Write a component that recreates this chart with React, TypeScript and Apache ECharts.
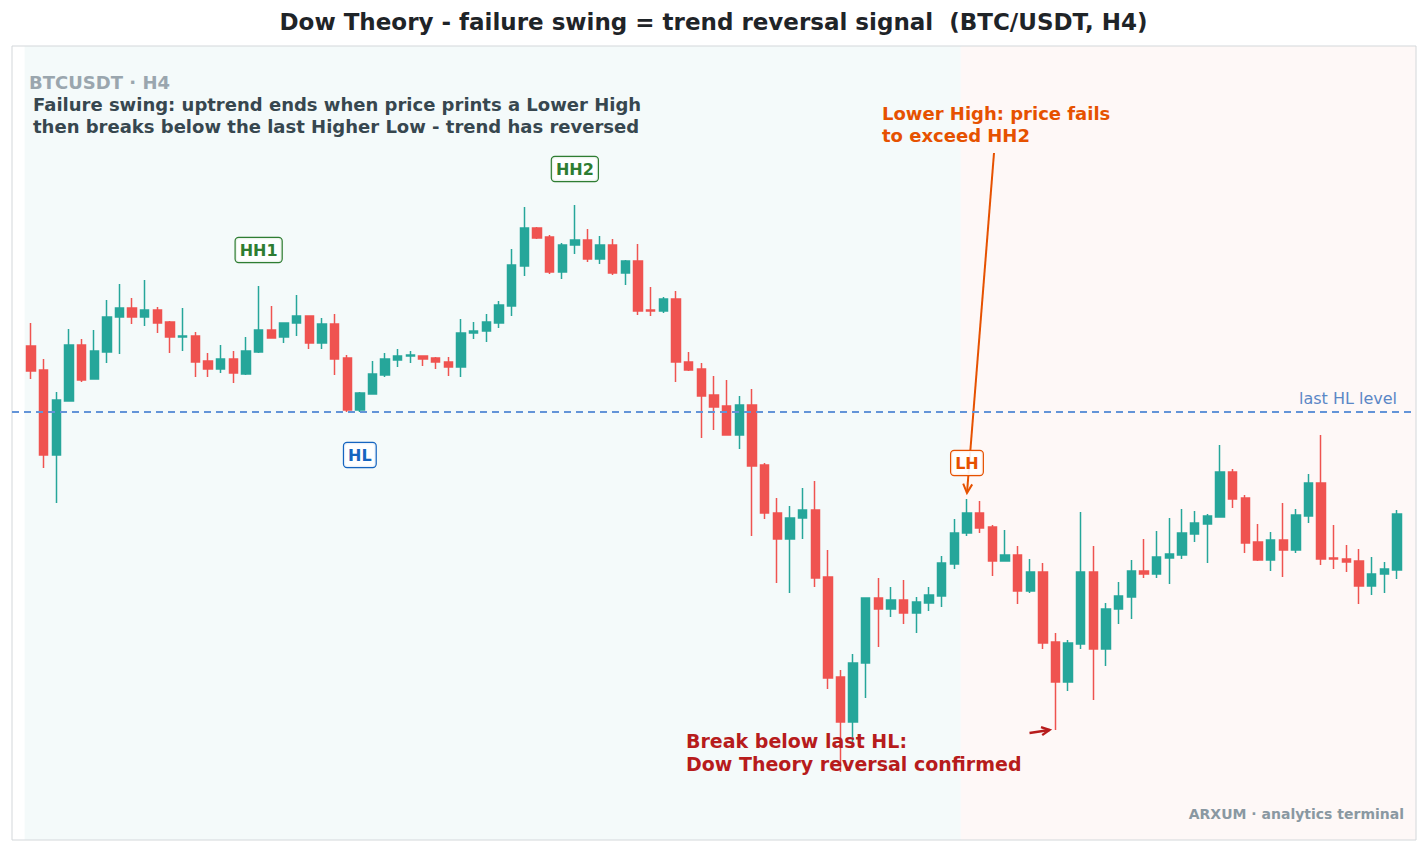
import React, { useEffect, useRef } from 'react';
import * as echarts from 'echarts';

// H4 candles (no axis shown, so the price scale is estimated)
const opens = [
  66540, 66300, 65450, 65990, 66550, 66210, 66480, 66830, 66920, 66830,
  66900, 66780, 66630, 66640, 66390, 66310, 66410, 66260, 66480, 66700,
  66630, 66770, 66840, 66570, 66760, 66420, 65900, 66060, 66250, 66400,
  66440, 66440, 66420, 66380, 66330, 66670, 66690, 66770, 66940, 67340,
  67720, 67630, 67280, 67550, 67600, 67410, 67550, 67270, 67390, 66900,
  66890, 67010, 66380, 66310, 66050, 65940, 65650, 65950, 65350, 64870,
  64610, 64820, 64900, 64230, 63230, 62780, 63370, 64020, 63910, 64000,
  63870, 63970, 64040, 64360, 64670, 64870, 64730, 64390, 64450, 64090,
  64280, 63580, 63180, 63560, 64280, 63510, 63910, 64030, 64290, 64260,
  64420, 64450, 64660, 64760, 64830, 65280, 65020, 64580, 64400, 64600,
  64500, 64840, 65170, 64420, 64410, 64390, 64140, 64260, 64300,
];
const closes = [
  66290, 65450, 66000, 66550, 66200, 66490, 66830, 66920, 66830, 66900,
  66770, 66630, 66640, 66380, 66310, 66410, 66270, 66490, 66700, 66620,
  66770, 66840, 66570, 66760, 66410, 65900, 66070, 66260, 66410, 66440,
  66450, 66410, 66380, 66330, 66670, 66690, 66780, 66950, 67350, 67720,
  67620, 67280, 67550, 67600, 67410, 67550, 67270, 67390, 66890, 66890,
  67010, 66380, 66300, 66040, 65930, 65650, 65950, 65340, 64870, 64610,
  64820, 64900, 64220, 63220, 62780, 63370, 64020, 63910, 64000, 63870,
  63980, 64050, 64370, 64670, 64870, 64720, 64390, 64450, 64090, 64280,
  63570, 63180, 63570, 64280, 63510, 63910, 64040, 64290, 64260, 64430,
  64460, 64670, 64770, 64840, 65280, 65010, 64570, 64400, 64600, 64500,
  64850, 65170, 64410, 64410, 64380, 64140, 64260, 64310, 64860,
];
const lows = [
  66210, 65320, 64970, 65990, 66180, 66210, 66370, 66460, 66760, 66740,
  66670, 66470, 66490, 66230, 66230, 66270, 66170, 66250, 66470, 66620,
  66570, 66640, 66510, 66510, 66250, 65880, 65880, 66060, 66230, 66330,
  66370, 66340, 66310, 66240, 66230, 66610, 66580, 66720, 66840, 67240,
  67610, 67260, 67210, 67460, 67380, 67360, 67250, 67150, 66850, 66840,
  66870, 66180, 66290, 65620, 65700, 65650, 65510, 64640, 64810, 64170,
  64070, 64610, 64130, 63110, 62280, 62520, 63020, 63530, 63830, 63760,
  63670, 63890, 63930, 64310, 64640, 64670, 64240, 64390, 63960, 64070,
  63510, 62700, 63090, 63510, 63000, 63340, 63760, 63810, 64220, 64220,
  64160, 64410, 64580, 64370, 64830, 64920, 64470, 64390, 64290, 64230,
  64470, 64770, 64350, 64310, 64280, 63960, 64050, 64070, 64210,
];
const highs = [
  66770, 66410, 66080, 66710, 66610, 66700, 67000, 67160, 67020, 67200,
  66930, 66790, 66920, 66680, 66470, 66550, 66490, 66630, 67140, 66940,
  66770, 67050, 66840, 66820, 66860, 66450, 66080, 66390, 66470, 66510,
  66490, 66440, 66430, 66430, 66810, 66780, 66860, 66990, 67510, 67930,
  67730, 67650, 67570, 67950, 67710, 67640, 67610, 67400, 67560, 67130,
  67030, 67090, 66480, 66370, 66240, 66200, 66040, 66110, 65370, 65020,
  64940, 65120, 65190, 64500, 63300, 63460, 64020, 64220, 64130, 64200,
  64030, 64130, 64440, 64810, 65010, 64990, 64750, 64700, 64540, 64410,
  64370, 63670, 63600, 64880, 64540, 63970, 64180, 64400, 64610, 64690,
  64820, 64910, 64890, 64860, 65550, 65310, 65050, 64760, 64680, 64970,
  64910, 65260, 65650, 64750, 64550, 64510, 64430, 64380, 64900,
];

const HL_LEVEL = 65880;
const Y_MIN = 61600;
const Y_MAX = 69540;
const PAD = 1; // one empty slot on the left, one on the right

// swing points (indices into the candle arrays)
const HH1_INDEX = 18;
const HH2_INDEX = 43;
const HL_INDEX = 26;
const LH_INDEX = 74;
const BREAK_INDEX = 81;

const FONT = 'DejaVu Sans';
const GREEN = '#26a69a';
const RED = '#ef5350';

const tag = (name: string, index: number, price: number, color: string) => ({
  name,
  coord: [index + PAD, price],
  symbol: 'rect',
  symbolSize: 1,
  itemStyle: { color: 'rgba(0,0,0,0)' },
  label: {
    show: true,
    position: 'inside',
    formatter: name,
    color,
    fontFamily: FONT,
    fontWeight: 'bold',
    fontSize: 16,
    lineHeight: 17,
    backgroundColor: 'rgba(255,255,255,0.9)',
    borderColor: color,
    borderWidth: 1.2,
    borderRadius: 3,
    padding: [4, 4, 3, 4],
  },
});

const arrowHead = (tip: number[], tail: number[], len: number, half: number) => {
  const dx = tip[0] - tail[0];
  const dy = tip[1] - tail[1];
  const d = Math.hypot(dx, dy);
  const ux = dx / d;
  const uy = dy / d;
  return [
    [tip[0] - ux * len - uy * half, tip[1] - uy * len + ux * half],
    [tip[0], tip[1]],
    [tip[0] - ux * len + uy * half, tip[1] - uy * len - ux * half],
  ];
};

const App: React.FC = () => {
  const chartRef = useRef<HTMLDivElement>(null);

  useEffect(() => {
    if (!chartRef.current) return;
    const chart = echarts.init(chartRef.current, undefined, { renderer: 'svg' });

    const slots = opens.length + PAD * 2;
    const categories = Array.from({ length: slots }, (_, i) => String(i));
    const empty = ['-', '-', '-', '-'];
    const candles = opens.map((o, i) => [o, closes[i], lows[i], highs[i]]);
    const data = [empty, ...candles, empty];

    chart.setOption({
      animation: false,
      backgroundColor: '#ffffff',
      title: {
        text: 'Dow Theory - failure swing = trend reversal signal  (BTC/USDT, H4)',
        left: 'center',
        top: 5,
        textStyle: { fontFamily: FONT, fontSize: 23, fontWeight: 'bold', color: '#1f2428' },
      },
      grid: {
        left: 12,
        right: 11,
        top: 46,
        bottom: 12,
        show: true,
        borderColor: '#d3d7da',
        borderWidth: 1,
        backgroundColor: 'transparent',
      },
      xAxis: { type: 'category', data: categories, boundaryGap: true, show: false },
      yAxis: { type: 'value', min: Y_MIN, max: Y_MAX, show: false },
      series: [
        {
          type: 'candlestick',
          data,
          barWidth: '70%',
          itemStyle: {
            color: GREEN,
            color0: RED,
            borderColor: GREEN,
            borderColor0: RED,
            borderWidth: 1.5,
          },
          markLine: {
            silent: true,
            symbol: ['none', 'none'],
            label: { show: false },
            lineStyle: { color: '#6394d8', width: 1.8, type: [7, 5] },
            data: [{ yAxis: HL_LEVEL }],
          },
          markPoint: {
            silent: true,
            data: [
              tag('HH1', HH1_INDEX, highs[HH1_INDEX] + 360, '#2e7d32'),
              tag('HH2', HH2_INDEX, highs[HH2_INDEX] + 360, '#2e7d32'),
              tag('HL', HL_INDEX, lows[HL_INDEX] - 430, '#1565c0'),
              tag('LH', LH_INDEX, highs[LH_INDEX] + 360, '#e65100'),
            ],
          },
        },
      ],
    });

    const px = (slot: number, price: number) =>
      chart.convertToPixel({ gridIndex: 0 }, [slot, price]) as number[];

    const first = px(PAD, Y_MAX);
    const second = px(PAD + 1, Y_MIN);
    const band = second[0] - first[0];
    const top = first[1];
    const bottom = second[1];
    const tealLeft = first[0] - band / 2;
    const split = px(PAD + LH_INDEX - 1, Y_MIN)[0] + band / 2;
    const pinkRight = px(slots - 1, Y_MIN)[0] + band / 2;

    const lhTip = px(PAD + LH_INDEX, highs[LH_INDEX]);
    lhTip[1] -= 6;
    const lhTail = [994, 153];
    const brTip = px(PAD + BREAK_INDEX, lows[BREAK_INDEX]);
    brTip[0] -= 6;
    const brTail = [brTip[0] - 20, brTip[1] + 3];
    const hlY = px(PAD, HL_LEVEL)[1];

    const txt = (x: number, y: number, text: string, size: number, fill: string, extra: any = {}) => ({
      type: 'text',
      x,
      y,
      z: 10,
      style: {
        text,
        fill,
        fontFamily: FONT,
        fontSize: size,
        fontWeight: 'bold',
        align: 'left',
        verticalAlign: 'top',
        ...extra,
      },
    });

    chart.setOption({
      graphic: [
        {
          type: 'rect',
          z: 0,
          silent: true,
          shape: { x: tealLeft, y: top + 0.5, width: split - tealLeft, height: bottom - top - 1 },
          style: { fill: 'rgba(38,166,154,0.05)' },
        },
        {
          type: 'rect',
          z: 0,
          silent: true,
          shape: { x: split, y: top + 0.5, width: pinkRight - split - 0.5, height: bottom - top - 1 },
          style: { fill: 'rgba(239,83,80,0.045)' },
        },
        {
          type: 'line',
          z: 1,
          silent: true,
          shape: { x1: lhTail[0], y1: lhTail[1], x2: lhTip[0], y2: lhTip[1] },
          style: { stroke: '#e65100', lineWidth: 2 },
        },
        {
          type: 'polyline',
          z: 1,
          silent: true,
          shape: { points: arrowHead(lhTip, lhTail, 9, 4.5) },
          style: { stroke: '#e65100', lineWidth: 2, fill: 'none' },
        },
        {
          type: 'line',
          z: 1,
          silent: true,
          shape: { x1: brTail[0], y1: brTail[1], x2: brTip[0], y2: brTip[1] },
          style: { stroke: '#b71c1c', lineWidth: 2.4 },
        },
        {
          type: 'polyline',
          z: 1,
          silent: true,
          shape: { points: arrowHead(brTip, brTail, 8, 4) },
          style: { stroke: '#b71c1c', lineWidth: 2.4, fill: 'none' },
        },
        txt(29, 73, 'BTCUSDT · H4', 18, '#9aa6ae'),
        txt(
          33,
          93,
          'Failure swing: uptrend ends when price prints a Lower High\nthen breaks below the last Higher Low - trend has reversed',
          18,
          '#37474f',
          { lineHeight: 22 },
        ),
        txt(882, 102, 'Lower High: price fails\nto exceed HH2', 18, '#e65100', { lineHeight: 22 }),
        txt(686, 729, 'Break below last HL:\nDow Theory reversal confirmed', 19, '#b71c1c', {
          lineHeight: 23,
        }),
        txt(1397, hlY - 14, 'last HL level', 16, '#5b87c6', {
          fontWeight: 'normal',
          align: 'right',
          verticalAlign: 'middle',
        }),
        txt(1404, 814, 'ARXUM · analytics terminal', 14, '#8a98a2', {
          align: 'right',
          verticalAlign: 'middle',
        }),
      ],
    });

    const handleResize = () => chart.resize();
    window.addEventListener('resize', handleResize);
    return () => {
      window.removeEventListener('resize', handleResize);
      chart.dispose();
    };
  }, []);

  return (
    <div
      ref={chartRef}
      style={{ position: 'fixed', left: 0, top: 0, width: '100vw', height: '100vh' }}
    />
  );
};

export default App;
